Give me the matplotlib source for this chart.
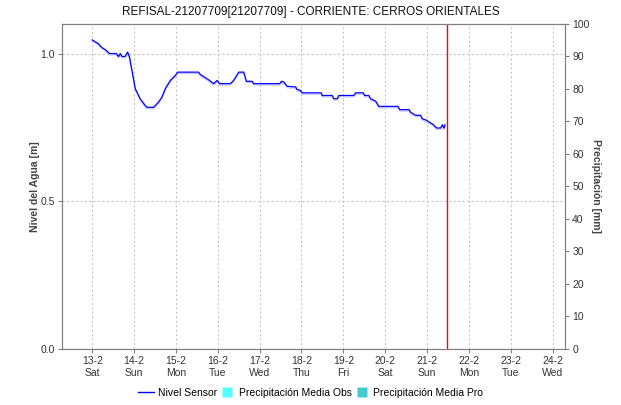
import matplotlib.pyplot as plt
import matplotlib.patheffects as pe
from matplotlib.lines import Line2D
import pandas as pd

plt.rcParams['font.family'] = ['Liberation Sans', 'DejaVu Sans']

# sensor level readings: hours since 13-2 00:00, level in m
horas = [0, 1.7, 3.6, 5.6, 7.5, 9.9, 13.8, 15.1, 16.1, 17.1, 18.9, 20.3, 21.4,
         22.8, 24.7, 27.6, 30.4, 31.4, 35.2, 38.1, 40, 41.9, 44.8, 47.7, 49,
         61, 62, 64.9, 66.8, 69.6, 71.6, 73.1, 79.2, 81.1, 84, 86.9, 88.4,
         91.7, 92.6, 107.5, 108.5, 109.8, 111.8, 116.6, 117.5, 119.4, 120.4,
         131.3, 131.9, 137.6, 138.6, 140.5, 141.4, 150, 151, 155.4, 156.2,
         158.6, 159.6, 162.5, 164.4, 175.3, 176.4, 181.6, 182.6, 185.4, 188.3,
         189.3, 191.8, 193.1, 195, 197.5, 199.8, 200.8, 201.7, 202.3]
nivel = [1.046, 1.04, 1.033, 1.02, 1.013, 1.0, 1.0, 0.99, 1.0, 0.99, 0.99,
         1.005, 0.988, 0.943, 0.881, 0.846, 0.824, 0.818, 0.818, 0.836, 0.853,
         0.881, 0.909, 0.926, 0.937, 0.937, 0.929, 0.918, 0.911, 0.898, 0.909,
         0.898, 0.898, 0.909, 0.937, 0.937, 0.906, 0.906, 0.898, 0.898, 0.906,
         0.904, 0.889, 0.887, 0.878, 0.875, 0.867, 0.867, 0.858, 0.858, 0.847,
         0.847, 0.858, 0.858, 0.867, 0.867, 0.858, 0.858, 0.847, 0.839, 0.821,
         0.821, 0.81, 0.81, 0.801, 0.791, 0.791, 0.779, 0.774, 0.768, 0.762,
         0.748, 0.748, 0.759, 0.748, 0.759]

inicio = pd.Timestamp('2021-02-13 00:00')
ahora = pd.Timestamp('2021-02-21 11:24')
dias = pd.date_range('2021-02-13', '2021-02-24', freq='D')
dias_sem = ['Sat', 'Sun', 'Mon', 'Tue', 'Wed', 'Thu', 'Fri', 'Sat', 'Sun',
            'Mon', 'Tue', 'Wed']

tiempos = [inicio + pd.Timedelta(hours=h) for h in horas]

fig = plt.figure(figsize=(6.21, 4.05), dpi=100)
ax = fig.add_axes([0.0998, 0.1383, 0.8105, 0.8025])
ax2 = ax.twinx()

gris = '#808080'
ax.plot(tiempos, nivel, color='#0000ff', lw=0.9, zorder=3,
        path_effects=[pe.SimpleLineShadow(offset=(0, -1), shadow_color='#c4c4ff', alpha=1),
                      pe.Normal()])
ax.axvline(ahora, color='#ff0000', lw=1.0, zorder=4)

ax.set_xlim(pd.Timestamp('2021-02-12 06:40'), pd.Timestamp('2021-02-24 07:15'))
ax.set_ylim(0, 1.1)
ax2.set_ylim(0, 100)

ax.set_yticks([0.0, 0.5, 1.0])
ax.set_yticklabels(['0.0', '0.5', '1.0'])
ax2.set_yticks(range(0, 101, 10))
ax.set_xticks(dias)
ax.set_xticklabels([f'{d.day}-{d.month}\n{s}' for d, s in zip(dias, dias_sem)])

ax.grid(True, color='#c8c8c8', ls=(0, (2, 2)), lw=0.8)
for a in (ax, ax2):
    for s in a.spines.values():
        s.set_color(gris)
    a.tick_params(colors=gris, labelcolor='#333333', labelsize=7.5,
                  length=3, width=0.8, pad=2)

ax.set_ylabel('Nivel del Agua [m]', fontsize=7.5, fontweight='bold', color='#444444',
              labelpad=0.5)
ax2.set_ylabel('Precipitación [mm]', fontsize=7.5, fontweight='bold', color='#444444',
               rotation=270, labelpad=8)
fig.suptitle('REFISAL-21207709[21207709] - CORRIENTE: CERROS ORIENTALES',
             fontsize=8.5, y=0.985, color='#111111')

handles = [Line2D([], [], color='#0000ff', lw=1),
           Line2D([], [], ls='none', marker='s', markersize=7,
                  markerfacecolor='#55ffff', markeredgecolor='none'),
           Line2D([], [], ls='none', marker='s', markersize=7,
                  markerfacecolor='#44cccc', markeredgecolor='none')]
fig.legend(handles, ['Nivel Sensor', 'Precipitación Media Obs', 'Precipitación Media Pro'],
           loc='center', bbox_to_anchor=(0.5, 0.03), ncol=3, frameon=False,
           fontsize=7.5, handlelength=1.6, handletextpad=0.3, columnspacing=0.2)

fig.savefig('out.png', dpi=100)
